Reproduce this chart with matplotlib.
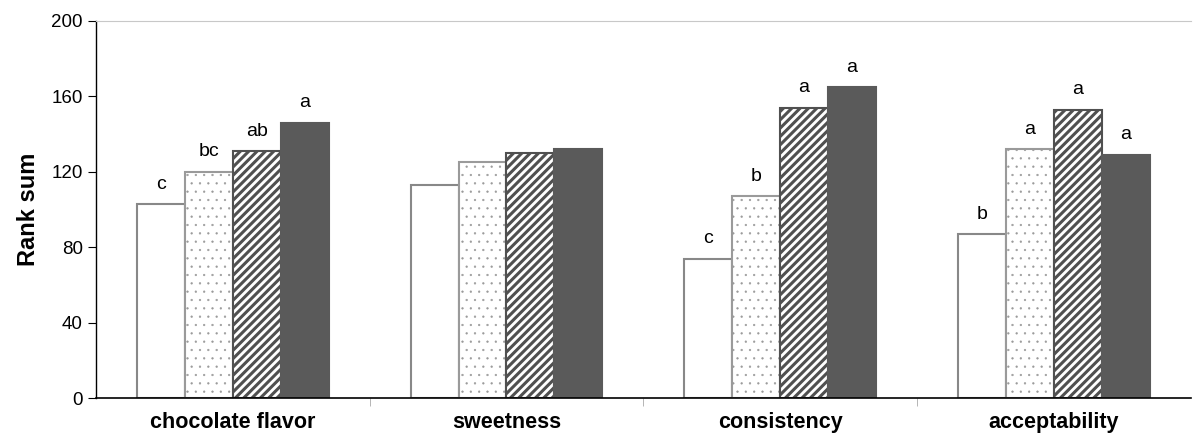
import matplotlib as mpl
import matplotlib.pyplot as plt
import numpy as np

categories = ["chocolate flavor", "sweetness", "consistency", "acceptability"]
series_a = [103, 113, 74, 87]
series_b = [120, 125, 107, 132]
series_c = [131, 130, 154, 153]
series_d = [146, 132, 165, 129]
letters_a = ["c", "", "c", "b"]
letters_b = ["bc", "", "b", "a"]
letters_c = ["ab", "", "a", "a"]
letters_d = ["a", "", "a", "a"]


def main(output_file: str):
    plt.rcParams["font.family"] = ["Liberation Sans", "DejaVu Sans"]

    fig, ax = plt.subplots(figsize=(11.99, 4.33), dpi=100)
    fig.subplots_adjust(left=0.08, right=0.993, top=0.952, bottom=0.08)

    x = np.arange(len(categories))
    w = 0.175
    series = [series_a, series_b, series_c, series_d]
    letters = [letters_a, letters_b, letters_c, letters_d]
    styles = [
        dict(color="white", edgecolor="#888888", hatch=None),
        dict(color="white", edgecolor="#9a9a9a", hatch=".."),
        dict(color="white", edgecolor="#505050", hatch="////"),
        dict(color="#5a5a5a", edgecolor="#5a5a5a", hatch=None),
    ]
    hatch_lw = [1.0, 0.4, 2.2, 1.0]
    for i, (vals, labs, st) in enumerate(zip(series, letters, styles)):
        pos = x + (i - 1.5) * w
        with mpl.rc_context({"hatch.linewidth": hatch_lw[i]}):
            ax.bar(pos, vals, w, linewidth=1.5, **st)
        for p, v, t in zip(pos, vals, labs):
            if t:
                ax.text(p, v + 6, t, ha="center", va="bottom", fontsize=14)

    ax.set_xlim(-0.5, len(categories) - 0.5)
    ax.set_ylim(0, 200)
    ax.set_yticks(np.arange(0, 201, 40))
    ax.tick_params(axis="y", labelsize=13.5, direction="out", length=6)
    ax.set_ylabel("Rank sum", fontsize=17, fontweight="bold", labelpad=8)

    ax.set_xticks(x)
    ax.set_xticklabels(categories, fontsize=15.5, fontweight="bold")
    ax.tick_params(axis="x", length=0, pad=10)
    ax.set_xticks(np.arange(0.5, len(categories) - 0.5, 1), minor=True)
    ax.tick_params(axis="x", which="minor", length=6, color="#aaaaaa", direction="out")

    ax.spines["right"].set_visible(False)
    ax.spines["top"].set_color("#c8c8c8")
    ax.spines["left"].set_linewidth(1.0)
    ax.spines["bottom"].set_linewidth(1.2)

    plt.savefig(output_file)


if __name__ == "__main__":
    main("out.png")
